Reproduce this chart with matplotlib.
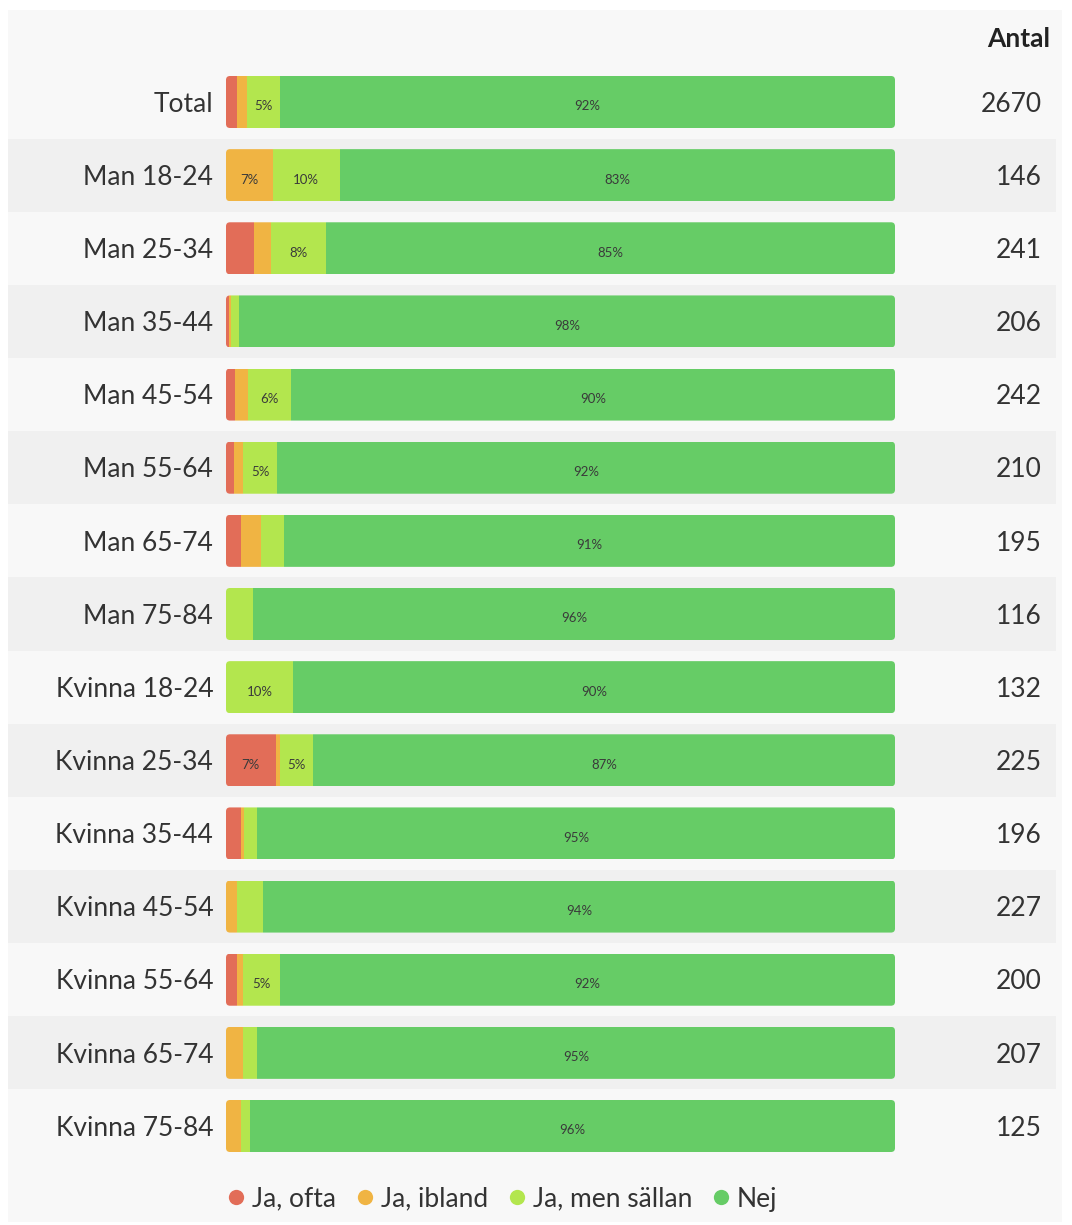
import matplotlib
matplotlib.use("Agg")
import matplotlib.pyplot as plt
from matplotlib.patches import Rectangle, FancyBboxPatch
from matplotlib.lines import Line2D
import matplotlib.transforms as mtransforms

categories = ["Total", "Man 18-24", "Man 25-34", "Man 35-44", "Man 45-54", "Man 55-64",
              "Man 65-74", "Man 75-84", "Kvinna 18-24", "Kvinna 25-34", "Kvinna 35-44",
              "Kvinna 45-54", "Kvinna 55-64", "Kvinna 65-74", "Kvinna 75-84"]
ja_ofta = [1.6, 0.0, 4.2, 0.5, 1.4, 1.2, 2.3, 0.0, 0.0, 7.4, 2.2, 0.0, 1.6, 0.0, 0.0]
ja_ibland = [1.6, 7.0, 2.5, 0.3, 1.9, 1.4, 3.0, 0.0, 0.0, 0.6, 0.5, 1.6, 1.0, 2.6, 2.2]
ja_sallan = [4.9, 10.0, 8.3, 1.2, 6.4, 5.0, 3.4, 4.0, 10.0, 5.0, 2.0, 4.0, 5.4, 2.0, 1.4]
nej = [91.9, 83.0, 85.0, 98.0, 90.3, 92.4, 91.3, 96.0, 90.0, 87.0, 95.3, 94.4, 92.0, 95.4, 96.4]
antal = [2670, 146, 241, 206, 242, 210, 195, 116, 132, 225, 196, 227, 200, 207, 125]
series_names = ["Ja, ofta", "Ja, ibland", "Ja, men sällan", "Nej"]
colors = ["#e26d58", "#f0b443", "#b3e64e", "#66cc66"]

plt.rcParams['font.family'] = ['Lato', 'DejaVu Sans']
W, H = 1072, 1225
fig = plt.figure(figsize=(W / 100, H / 100), dpi=100)
fig.patch.set_facecolor("white")

# panel background
fig.patches.append(Rectangle((8 / W, 1 - 1222 / H), (1062 - 8) / W, (1222 - 10) / H,
                             transform=fig.transFigure, facecolor="#f8f8f8",
                             edgecolor="none", zorder=-5))

n = len(categories)
pitch = (1126 - 102) / (n - 1)
top_px = 102 - pitch / 2
bot_px = 1126 + pitch / 2
ax = fig.add_axes([226 / W, 1 - bot_px / H, 669 / W, (bot_px - top_px) / H])
ax.set_xlim(0, 100)
ax.set_ylim(n - 0.5, -0.5)
ax.axis("off")
ax.patch.set_alpha(0)

trans = mtransforms.blended_transform_factory(fig.transFigure, ax.transData)
for i in range(n):
    if i % 2 == 1:
        ax.add_patch(Rectangle((8 / W, i - 0.5), (1056 - 8) / W, 1.0, transform=trans,
                               facecolor="#f0f0f0", edgecolor="none", zorder=0,
                               clip_on=False))

series = [ja_ofta, ja_ibland, ja_sallan, nej]
bar_h = 52 / pitch
x_per_px = 100 / 669
y_per_px = 1 / pitch
for i in range(n):
    clip = FancyBboxPatch((0, i - bar_h / 2), 100, bar_h,
                          boxstyle="round,pad=0,rounding_size=%f" % (4 * x_per_px),
                          mutation_aspect=y_per_px / x_per_px,
                          transform=ax.transData, facecolor="none", edgecolor="none")
    ax.add_patch(clip)
    left = 0.0
    for s, vals in enumerate(series):
        v = vals[i]
        if v > 0:
            bars = ax.barh(i, v, left=left, height=bar_h, color=colors[s],
                           edgecolor="none", zorder=2)
            for b in bars:
                b.set_clip_path(clip)
            if round(v) >= 5:
                ax.text(left + v / 2, i + 0.06, "%d%%" % round(v), ha="center",
                        va="center", fontsize=9.5, color="#3a3a3a", zorder=3)
        left += v
    ax.text(-1.9, i + 0.03, categories[i], ha="right", va="center", fontsize=19,
            color="#333333")
    ax.text(1042 / W, i + 0.03, str(antal[i]), transform=trans, ha="right", va="center",
            fontsize=19, color="#333333")

fig.text(1050 / W, 1 - 39 / H, "Antal", ha="right", va="center", fontsize=19,
         fontweight="bold", color="#222222")

handles = [Line2D([], [], marker="o", linestyle="none", markersize=11,
                  markerfacecolor=c, markeredgecolor="none") for c in colors]
fig.legend(handles, series_names, loc="center", bbox_to_anchor=(500 / W, 1 - 1199 / H),
           ncol=4, frameon=False, fontsize=19, handletextpad=0.1, columnspacing=0.6,
           handlelength=1.0, labelcolor="#333333")

fig.savefig("out.png", dpi=100, facecolor="white")
